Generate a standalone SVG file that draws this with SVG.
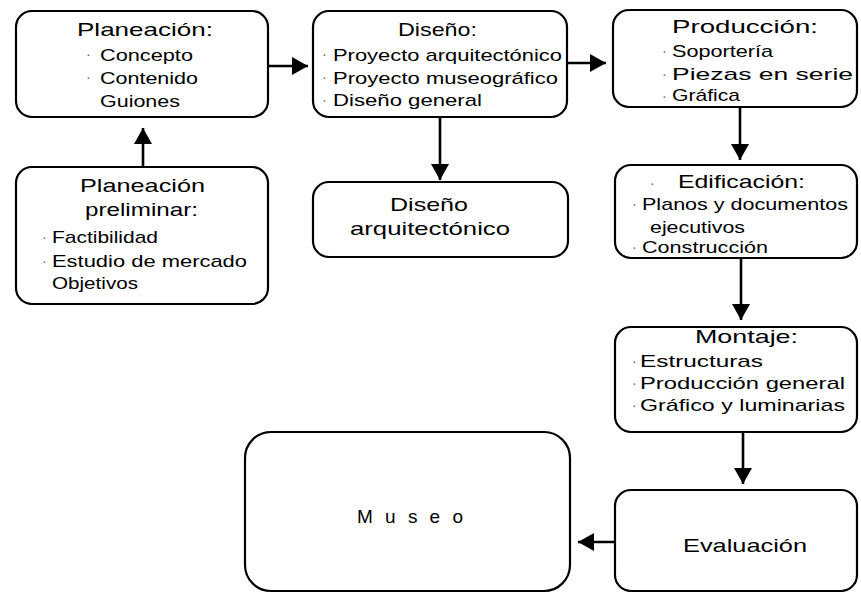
<svg xmlns="http://www.w3.org/2000/svg" width="861" height="594" viewBox="0 0 861 594">
<style>
.box{fill:#fff;stroke:#000;stroke-width:2.2}
.t{font-family:"Liberation Sans",Arial,sans-serif;font-size:19px;fill:#000}
.i{font-family:"Liberation Sans",Arial,sans-serif;font-size:17px;fill:#000}
.b{font-family:"Liberation Sans",Arial,sans-serif;font-size:14px;fill:#666}
.c{stroke:#000;stroke-width:2.6;fill:none;marker-end:url(#ah)}
</style>
<defs>
<marker id="ah" markerUnits="userSpaceOnUse" markerWidth="18" markerHeight="18" refX="16" refY="9" orient="auto">
<path d="M0,0 L16,9 L0,18 z" fill="#000"/>
</marker>
</defs>
<rect width="861" height="594" fill="#fff"/>
<g id="connectors">
<line class="c" x1="143" y1="167" x2="143" y2="128"/>
<line class="c" x1="268" y1="66" x2="308" y2="66"/>
<line class="c" x1="567" y1="63" x2="606" y2="63"/>
<line class="c" x1="440" y1="117" x2="440" y2="180"/>
<line class="c" x1="740" y1="107" x2="740" y2="160"/>
<line class="c" x1="741" y1="258" x2="741" y2="320"/>
<line class="c" x1="743" y1="432" x2="743" y2="484"/>
<line class="c" x1="615" y1="542" x2="578" y2="542"/>
</g>
<g id="planeacion">
<rect class="box" x="16" y="11" width="252" height="106" rx="16"/>
<text class="t" x="77" y="36" textLength="136" lengthAdjust="spacingAndGlyphs">Planeación:</text>
<text class="b" x="86" y="59">·</text>
<text class="i" x="100" y="61" textLength="93" lengthAdjust="spacingAndGlyphs">Concepto</text>
<text class="b" x="86" y="82">·</text>
<text class="i" x="100" y="84" textLength="98" lengthAdjust="spacingAndGlyphs">Contenido</text>
<text class="i" x="100" y="107" textLength="80" lengthAdjust="spacingAndGlyphs">Guiones</text>
</g>
<g id="diseno">
<rect class="box" x="313" y="11" width="254" height="106" rx="16"/>
<text class="t" x="398" y="36" textLength="79" lengthAdjust="spacingAndGlyphs">Diseño:</text>
<text class="b" x="322" y="59">·</text>
<text class="i" x="333" y="61" textLength="229" lengthAdjust="spacingAndGlyphs">Proyecto arquitectónico</text>
<text class="b" x="322" y="82">·</text>
<text class="i" x="333" y="84" textLength="225" lengthAdjust="spacingAndGlyphs">Proyecto museográfico</text>
<text class="b" x="322" y="105">·</text>
<text class="i" x="333" y="106" textLength="149" lengthAdjust="spacingAndGlyphs">Diseño general</text>
</g>
<g id="produccion">
<rect class="box" x="613" y="10" width="244" height="97" rx="16"/>
<text class="t" x="672" y="33" textLength="146" lengthAdjust="spacingAndGlyphs">Producción:</text>
<text class="b" x="662" y="56">·</text>
<text class="i" x="672" y="57" textLength="101" lengthAdjust="spacingAndGlyphs">Soportería</text>
<text class="b" x="662" y="79">·</text>
<text class="i" x="672" y="80" textLength="181" lengthAdjust="spacingAndGlyphs">Piezas en serie</text>
<text class="b" x="662" y="101">·</text>
<text class="i" x="672" y="101" textLength="68" lengthAdjust="spacingAndGlyphs">Gráfica</text>
</g>
<g id="planeacion-preliminar">
<rect class="box" x="16" y="167" width="252" height="137" rx="16"/>
<text class="t" x="80" y="192" textLength="125" lengthAdjust="spacingAndGlyphs">Planeación</text>
<text class="t" x="85" y="216" textLength="113" lengthAdjust="spacingAndGlyphs">preliminar:</text>
<text class="b" x="42" y="242">·</text>
<text class="i" x="52" y="243" textLength="106" lengthAdjust="spacingAndGlyphs">Factibilidad</text>
<text class="b" x="42" y="266">·</text>
<text class="i" x="52" y="267" textLength="195" lengthAdjust="spacingAndGlyphs">Estudio de mercado</text>
<text class="i" x="52" y="289" textLength="86" lengthAdjust="spacingAndGlyphs">Objetivos</text>
</g>
<g id="diseno-arquitectonico">
<rect class="box" x="313" y="182" width="255" height="75" rx="16"/>
<text class="t" x="390" y="211" textLength="78" lengthAdjust="spacingAndGlyphs">Diseño</text>
<text class="t" x="350" y="235" textLength="160" lengthAdjust="spacingAndGlyphs">arquitectónico</text>
</g>
<g id="edificacion">
<rect class="box" x="615" y="165" width="242" height="93" rx="16"/>
<text class="b" x="650" y="188">·</text>
<text class="t" x="678" y="188" textLength="127" lengthAdjust="spacingAndGlyphs">Edificación:</text>
<text class="b" x="632" y="209">·</text>
<text class="i" x="642" y="210" textLength="206" lengthAdjust="spacingAndGlyphs">Planos y documentos</text>
<text class="i" x="650" y="233" textLength="95" lengthAdjust="spacingAndGlyphs">ejecutivos</text>
<text class="b" x="632" y="252">·</text>
<text class="i" x="642" y="253" textLength="126" lengthAdjust="spacingAndGlyphs">Construcción</text>
</g>
<g id="montaje">
<rect class="box" x="615" y="327" width="242" height="105" rx="16"/>
<text class="t" x="695" y="343" textLength="103" lengthAdjust="spacingAndGlyphs">Montaje:</text>
<text class="b" x="632" y="366">·</text>
<text class="i" x="640" y="367" textLength="123" lengthAdjust="spacingAndGlyphs">Estructuras</text>
<text class="b" x="632" y="388">·</text>
<text class="i" x="640" y="389" textLength="205" lengthAdjust="spacingAndGlyphs">Producción general</text>
<text class="b" x="632" y="410">·</text>
<text class="i" x="640" y="411" textLength="205" lengthAdjust="spacingAndGlyphs">Gráfico y luminarias</text>
</g>
<g id="evaluacion">
<rect class="box" x="615" y="490" width="242" height="101" rx="16"/>
<text class="t" x="683" y="552" textLength="124" lengthAdjust="spacingAndGlyphs">Evaluación</text>
</g>
<g id="museo">
<rect class="box" x="245" y="432" width="325" height="159" rx="26"/>
<text class="t" x="357" y="523" textLength="106" lengthAdjust="spacing">M u s e o</text>
</g>
</svg>
